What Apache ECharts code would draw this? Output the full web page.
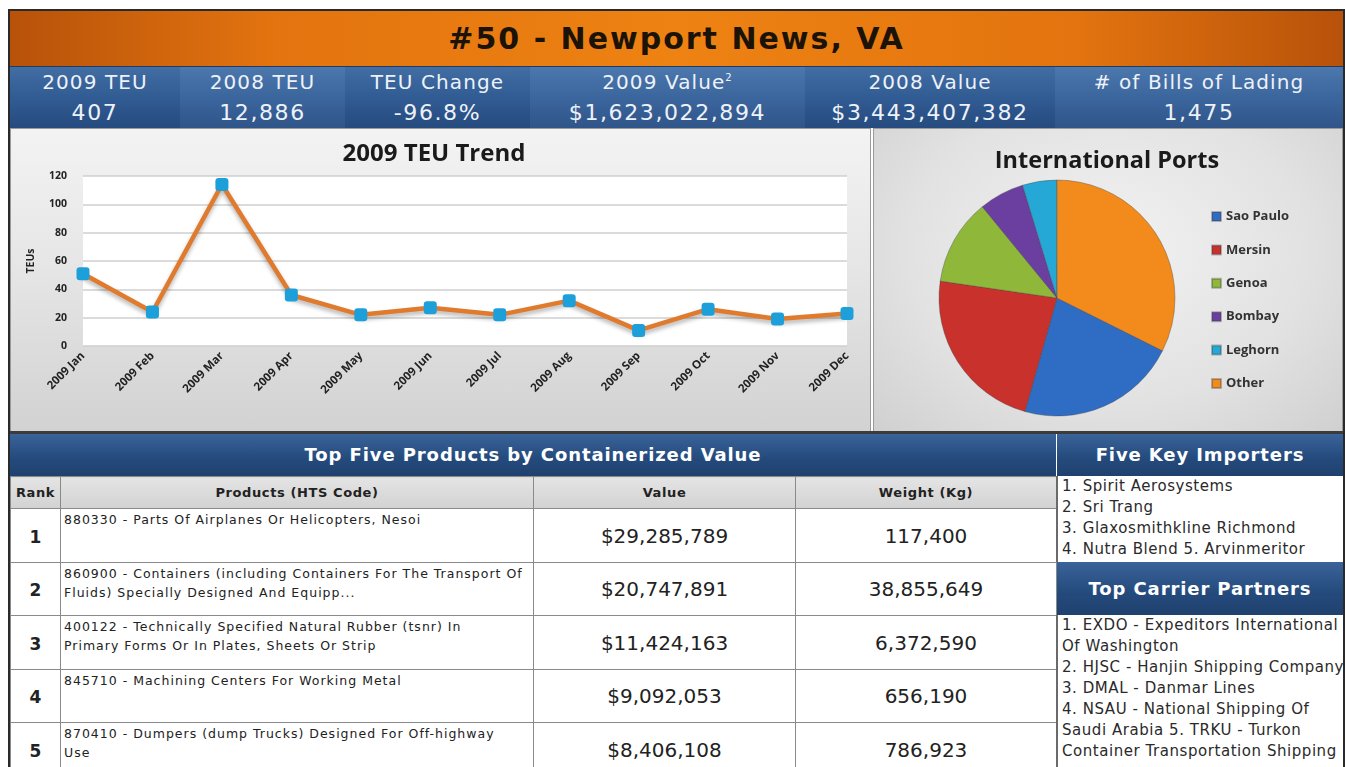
<!DOCTYPE html>
<html>
<head>
<meta charset="utf-8">
<title>#50 - Newport News, VA</title>
<script src="https://cdn.jsdelivr.net/npm/echarts@6/dist/echarts.min.js"></script>
<style>
  html, body { margin: 0; padding: 0; background: #fff; }
  body { width: 1345px; height: 767px; position: relative; overflow: hidden; font-family: "DejaVu Sans", Verdana, sans-serif; }
  .abs { position: absolute; box-sizing: border-box; }
  #frame { left: 8px; top: 9px; width: 1337px; height: 760px; border: 2px solid #2a2a2a; border-bottom: none; }
  #titleBar { left: 10px; top: 11px; width: 1333px; height: 55px;
    background: linear-gradient(to right, #b8520a 0%, #e3740f 20%, #ee8212 50%, #e3740f 80%, #b8520a 100%);
    color: #1b1208; font-weight: bold; font-size: 30px; letter-spacing: 2px; text-align: center; line-height: 56px; }
  #statBar { left: 10px; top: 66px; width: 1333px; height: 62px;
    background: linear-gradient(to bottom, #4673ab 0%, #33609a 50%, #284f85 100%);
    border-top: 1px solid #203c63; }
  .stat { position: absolute; top: 0; height: 62px; color: #eef2f8; text-align: center; font-size: 20px; letter-spacing: 1.1px; }
  .stat .lab { position: absolute; left: 0; right: 0; top: 3px; }
  .stat .val { position: absolute; left: 0; right: 0; top: 33px; font-size: 22px; letter-spacing: 1.6px; }
  .stat sup { font-size: 10px; }
  #lineBox { left: 10px; top: 128px; width: 861px; height: 304px;
    background: linear-gradient(to bottom, #f3f3f3 0%, #e6e6e6 45%, #d2d2d2 100%);
    border: 1px solid #9a9a9a; }
  #pieBox { left: 873px; top: 128px; width: 470px; height: 304px;
    background: radial-gradient(ellipse at 50% 40%, #f2f2f2 0%, #e2e2e2 60%, #d0d0d0 100%);
    border: 1px solid #9a9a9a; }
  #midRule { left: 10px; top: 431px; width: 1333px; height: 3px; background: #3b3b3b; }
  .bluehead { background: linear-gradient(to bottom, #3a6399 0%, #244a7c 60%, #1f416e 100%);
    color: #fff; font-weight: bold; font-size: 18px; letter-spacing: 0.9px; text-align: center; }
  table { border-collapse: collapse; table-layout: fixed; }
  #prodTable { left: 10px; top: 476px; width: 1046px; }
  #prodTable td, #prodTable th { border: 1.5px solid #8a8a8a; padding: 0; box-sizing: border-box; }
  #prodTable th { background: linear-gradient(to bottom, #e4e4e4, #d2d2d2); height: 32px; font-size: 13px; letter-spacing: 0.6px; color: #222; }
  #prodTable td { height: 53.5px; background: #fff; color: #222; }
  td.rank { text-align: center; font-weight: bold; font-size: 17px; padding-top: 3px !important; }
  td.prod { vertical-align: top; font-size: 12.5px; letter-spacing: 1px; line-height: 19px; padding-left: 3px !important; padding-top: 1px !important; color: #333; white-space: pre-line; }
  td.num { text-align: center; font-size: 20px; padding-top: 1px !important; }
  .list { background: #fff; font-size: 15px; letter-spacing: 0.55px; color: #2a2a2a; line-height: 21px; padding-left: 4px; border-left: 2px solid #6a6a6a; white-space: nowrap; overflow: hidden; }
</style>
</head>
<body>
<div class="abs" id="titleBar"></div>
<div class="abs" id="statBar"></div>
<div class="abs" id="lineBox"><div id="lineChart" style="width:861px;height:304px"></div></div>
<div class="abs" id="pieBox"><div id="pieChart" style="width:470px;height:304px"></div></div>
<div class="abs" id="midRule"></div>
<div class="abs bluehead" id="prodHead" style="left:10px;top:434px;width:1046px;height:42px;line-height:42px;"></div>
<table class="abs" id="prodTable"></table>
<div class="abs bluehead" id="impHead" style="left:1057px;top:434px;width:286px;height:42px;line-height:42px;"></div>
<div class="abs list" id="impList" style="left:1056px;top:476px;width:287px;height:86px;"></div>
<div class="abs bluehead" id="carHead" style="left:1057px;top:562px;width:286px;height:53px;line-height:53px;"></div>
<div class="abs list" id="carList" style="left:1056px;top:615px;width:287px;height:152px;"></div>
<div class="abs" id="frame"></div>

<script>
// header
const pageTitle = '#50 - Newport News, VA'
const statLabels = ['2009 TEU', '2008 TEU', 'TEU Change', '2009 Value<sup>2</sup>', '2008 Value', '# of Bills of Lading']
const statValues = ['407', '12,886', '-96.8%', '$1,623,022,894', '$3,443,407,382', '1,475']
const statEdges = [0, 170, 335, 520, 795, 1045, 1333]

// 2009 TEU trend
const months = ['2009 Jan', '2009 Feb', '2009 Mar', '2009 Apr', '2009 May', '2009 Jun',
  '2009 Jul', '2009 Aug', '2009 Sep', '2009 Oct', '2009 Nov', '2009 Dec']
const teus = [51, 24, 114, 36, 22, 27, 22, 32, 11, 26, 19, 23]

// international ports (share of pie, %)
const ports = ['Sao Paulo', 'Mersin', 'Genoa', 'Bombay', 'Leghorn', 'Other']
const portShares = [22.0, 22.9, 11.8, 6.2, 4.7, 32.4]
const portColors = ['#2f6dc4', '#c8312c', '#8fb83a', '#6b3fa0', '#26a8d6', '#f28a1c']

// products table (line breaks as in the original cells)
const productsTitle = 'Top Five Products by Containerized Value'
const productCols = ['Rank', 'Products (HTS Code)', 'Value', 'Weight (Kg)']
const productRanks = [1, 2, 3, 4, 5]
const productNames = [
  '880330 - Parts Of Airplanes Or Helicopters, Nesoi',
  '860900 - Containers (including Containers For The Transport Of\nFluids) Specially Designed And Equipp...',
  '400122 - Technically Specified Natural Rubber (tsnr) In\nPrimary Forms Or In Plates, Sheets Or Strip',
  '845710 - Machining Centers For Working Metal',
  '870410 - Dumpers (dump Trucks) Designed For Off-highway\nUse'
]
const productValues = ['$29,285,789', '$20,747,891', '$11,424,163', '$9,092,053', '$8,406,108']
const productWeights = ['117,400', '38,855,649', '6,372,590', '656,190', '786,923']

// side lists
const importersTitle = 'Five Key Importers'
const importerLines = ['1. Spirit Aerosystems', '2. Sri Trang', '3. Glaxosmithkline Richmond', '4. Nutra Blend 5. Arvinmeritor']
const carriersTitle = 'Top Carrier Partners'
const carrierLines = ['1. EXDO - Expeditors International', 'Of Washington', '2. HJSC - Hanjin Shipping Company',
  '3. DMAL - Danmar Lines', '4. NSAU - National Shipping  Of', 'Saudi Arabia 5. TRKU - Turkon',
  'Container Transportation Shipping']

// ---- build the html parts ----
document.getElementById('titleBar').textContent = pageTitle
let statHtml = ''
for (let i = 0; i < statLabels.length; i++) {
  const l = statEdges[i], w = statEdges[i + 1] - statEdges[i]
  const shade = i % 2 ? 'rgba(255,255,255,0.04)' : 'rgba(0,0,0,0.04)'
  statHtml += '<div class="stat" style="left:' + l + 'px;width:' + w + 'px;background:' + shade + '">' +
    '<div class="lab">' + statLabels[i] + '</div><div class="val">' + statValues[i] + '</div></div>'
}
document.getElementById('statBar').innerHTML = statHtml

document.getElementById('prodHead').textContent = productsTitle
let t = '<colgroup><col style="width:50px"><col style="width:473px"><col style="width:262px"><col style="width:261px"></colgroup>'
t += '<tr>' + productCols.map(c => '<th>' + c + '</th>').join('') + '</tr>'
for (let i = 0; i < productRanks.length; i++) {
  t += '<tr><td class="rank">' + productRanks[i] + '</td><td class="prod">' + productNames[i] + '</td>' +
    '<td class="num">' + productValues[i] + '</td><td class="num">' + productWeights[i] + '</td></tr>'
}
document.getElementById('prodTable').innerHTML = t

document.getElementById('impHead').textContent = importersTitle
document.getElementById('impList').innerHTML = importerLines.join('<br>')
document.getElementById('carHead').textContent = carriersTitle
document.getElementById('carList').innerHTML = carrierLines.join('<br>')

// ---- line chart ----
const lineChart = echarts.init(document.getElementById('lineChart'))
lineChart.setOption({
  animation: false,
  title: {
    text: '2009 TEU Trend',
    left: 418, top: 8, textAlign: 'center',
    textStyle: { fontFamily: 'Open Sans', fontSize: 24, fontWeight: 'bold', color: '#1a1a1a' }
  },
  grid: { left: 72, right: 25, top: 47, bottom: 87, show: true, backgroundColor: '#fff', borderWidth: 0 },
  xAxis: {
    type: 'category',
    data: months,
    boundaryGap: false,
    axisLine: { show: false },
    axisTick: { show: false },
    axisLabel: { rotate: 45, margin: 8, fontSize: 11.5, fontWeight: 'bold', color: '#222', fontFamily: 'Open Sans' }
  },
  yAxis: {
    type: 'value',
    min: 0, max: 120, interval: 20,
    name: 'TEUs',
    nameLocation: 'middle',
    nameGap: 46,
    nameTextStyle: { fontSize: 10.5, fontWeight: 'bold', color: '#222', fontFamily: 'Open Sans' },
    axisLine: { show: false },
    axisTick: { show: false },
    axisLabel: { margin: 16, fontSize: 10.5, fontWeight: 'bold', color: '#222', fontFamily: 'Open Sans' },
    splitLine: { lineStyle: { color: '#cfcfcf', width: 1.5 } }
  },
  series: [{
    type: 'line',
    data: teus,
    symbol: 'roundRect',
    symbolSize: 13,
    showAllSymbol: true,
    lineStyle: { color: '#e07a2c', width: 4.5, shadowColor: 'rgba(0,0,0,0.3)', shadowBlur: 4, shadowOffsetY: 3 },
    itemStyle: { color: '#1d9fda' }
  }]
})

// ---- pie chart ----
const pieChart = echarts.init(document.getElementById('pieChart'))
pieChart.setOption({
  animation: false,
  title: {
    text: 'International Ports',
    left: 228, top: 15, textAlign: 'center',
    textStyle: { fontFamily: 'Open Sans', fontSize: 23.5, fontWeight: 'bold', color: '#1a1a1a' }
  },
  legend: {
    orient: 'vertical',
    left: 332, top: 76,
    icon: 'rect',
    itemWidth: 9, itemHeight: 9,
    itemGap: 20.4,
    data: ports,
    textStyle: { fontSize: 13, fontWeight: 'bold', color: '#333', lineHeight: 12, fontFamily: 'Open Sans' }
  },
  series: [{
    type: 'pie',
    center: [183, 169],
    radius: 118,
    startAngle: -26.6,
    clockwise: true,
    label: { show: false },
    labelLine: { show: false },
    itemStyle: { borderColor: 'rgba(60,60,60,0.35)', borderWidth: 1 },
    data: ports.map((p, i) => ({ name: p, value: portShares[i], itemStyle: { color: portColors[i] } }))
  }]
})
</script>
</body>
</html>
